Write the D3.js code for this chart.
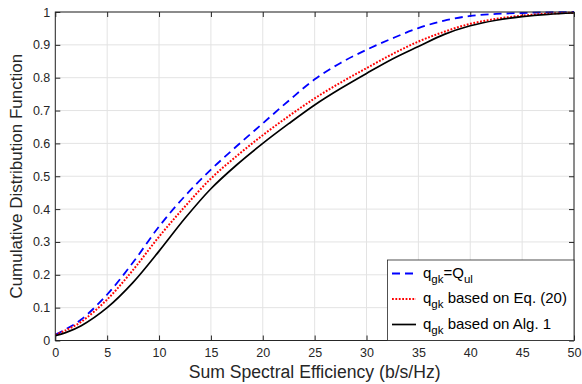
<!DOCTYPE html>
<html><head><meta charset="utf-8">
<script src="https://cdn.jsdelivr.net/npm/d3@7"></script>
<style>
html,body{margin:0;padding:0;background:#fff;}
svg{display:block;font-family:"Liberation Sans",Arial,Helvetica,sans-serif;}
</style></head><body>
<svg id="c" width="582" height="384"></svg>
<script>
const xs = [0,1,2.5,5,7.5,10,12.5,15,17.5,20,22.5,25,27.5,30,32.5,35,37.5,40,42.5,45,47.5,50];
const blueY  = [0.018,0.034,0.064,0.140,0.238,0.347,0.440,0.520,0.592,0.661,0.730,0.795,0.845,0.885,0.920,0.951,0.974,0.988,0.994,0.997,0.999,1.000];
const redY   = [0.017,0.031,0.057,0.125,0.215,0.316,0.408,0.493,0.562,0.625,0.683,0.737,0.785,0.829,0.872,0.910,0.940,0.964,0.979,0.989,0.995,0.998];
const blackY = [0.015,0.024,0.045,0.100,0.177,0.272,0.372,0.462,0.535,0.600,0.660,0.717,0.767,0.813,0.857,0.895,0.932,0.958,0.975,0.986,0.993,0.997];
const xTicks = [0,5,10,15,20,25,30,35,40,45,50];
const yTicks = [0,0.1,0.2,0.3,0.4,0.5,0.6,0.7,0.8,0.9,1];
const xLabel = "Sum Spectral Efficiency (b/s/Hz)";
const yLabel = "Cumulative Distribution Function";

const L=55.3, R=574, T=12, B=340.5;
const svg = d3.select("#c");
const x = d3.scaleLinear().domain([0,50]).range([L,R]);
const y = d3.scaleLinear().domain([0,1]).range([B,T]);

// grid
const g = svg.append("g");
g.selectAll(".gx").data(xTicks).join("line")
 .attr("x1",d=>x(d)).attr("x2",d=>x(d)).attr("y1",T).attr("y2",B)
 .attr("stroke","#e3e3e3").attr("stroke-width",1);
g.selectAll(".gy").data(yTicks).join("line")
 .attr("y1",d=>y(d)).attr("y2",d=>y(d)).attr("x1",L).attr("x2",R)
 .attr("stroke","#e3e3e3").attr("stroke-width",1);

// axes
const tickStyle = sel => { sel.select(".domain").remove(); sel.selectAll("line").attr("stroke","#262626");
  sel.selectAll("text").attr("fill","#262626").style("font-size","12.5px").style("font-family","'Liberation Sans',Arial,sans-serif"); };
svg.append("g").attr("transform",`translate(0,${B})`)
 .call(d3.axisBottom(x).tickValues(xTicks).tickSize(-5).tickPadding(8).tickFormat(d3.format("d"))).call(tickStyle);
svg.append("g").attr("transform",`translate(0,${T})`)
 .call(d3.axisTop(x).tickValues(xTicks).tickSize(-5).tickFormat("")).call(tickStyle);
svg.append("g").attr("transform",`translate(${L},0)`)
 .call(d3.axisLeft(y).tickValues(yTicks).tickSize(-5).tickPadding(5).tickFormat(d=>d===0?"0":d===1?"1":d3.format(".1f")(d))).call(tickStyle);
svg.append("g").attr("transform",`translate(${R},0)`)
 .call(d3.axisRight(y).tickValues(yTicks).tickSize(-5).tickFormat("")).call(tickStyle);

// lines
const line = d3.line().x(d=>x(d[0])).y(d=>y(d[1])).curve(d3.curveCatmullRom.alpha(0.5));
const series = [
 {vals:blueY, color:"#0000ff", dash:"8,5", w:1.8},
 {vals:redY, color:"#ff0000", dash:"1.8,1.6", w:2},
 {vals:blackY, color:"#000000", dash:null, w:1.7}
];
svg.append("clipPath").attr("id","pc").append("rect").attr("x",L).attr("y",T-2).attr("width",R-L).attr("height",B-T+2);
series.forEach(s=>{
 svg.append("path").datum(xs.map((v,i)=>[v,s.vals[i]]))
  .attr("d",line).attr("fill","none").attr("stroke",s.color).attr("stroke-width",s.w)
  .attr("stroke-dasharray",s.dash).attr("clip-path","url(#pc)");
});

// box
svg.append("rect").attr("x",L).attr("y",T).attr("width",R-L).attr("height",B-T)
 .attr("fill","none").attr("stroke","#262626").attr("stroke-width",1);

// labels
svg.append("text").attr("x",(L+R)/2).attr("y",378).attr("text-anchor","middle")
 .attr("fill","#262626").style("font-size","17.6px").text(xLabel);
svg.append("text").attr("transform",`translate(22,${(T+B)/2}) rotate(-90)`).attr("text-anchor","middle")
 .attr("fill","#262626").style("font-size","17px").text(yLabel);

// legend
const lg = svg.append("g");
lg.append("rect").attr("x",387.5).attr("y",260).attr("width",R-387.5).attr("height",80.5)
 .attr("fill","#fff").attr("stroke","#262626").attr("stroke-width",0.8);
const legendItems = [
 {s:series[0], parts:[["q",0],["gk",1],["=Q",0],["ul",1]]},
 {s:series[1], parts:[["q",0],["gk",1],[" based on Eq. (20)",0]]},
 {s:series[2], parts:[["q",0],["gk",1],[" based on Alg. 1",0]]}
];
legendItems.forEach((it,i)=>{
 const yy = 273.5 + i*25.5;
 lg.append("line").attr("x1",392).attr("x2",416).attr("y1",yy).attr("y2",yy)
  .attr("stroke",it.s.color).attr("stroke-width",it.s.w).attr("stroke-dasharray",it.s.dash);
 const t = lg.append("text").attr("x",423).attr("y",yy+4).attr("fill","#000").style("font-size","15px").style("white-space","pre");
 it.parts.forEach((p,j)=>{
  t.append("tspan").attr("dy",p[1]?5:(j?-5:0)).style("font-size",p[1]?"11.5px":"15px").text(p[0]);
 });
});
</script>
</body></html>
